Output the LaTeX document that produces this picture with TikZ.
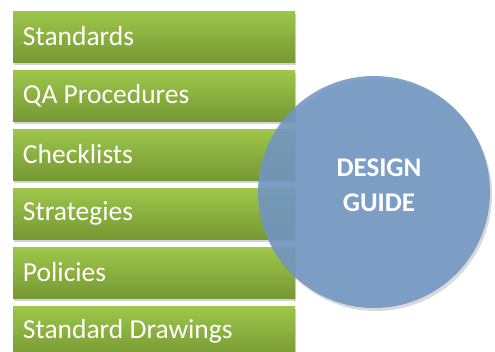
\documentclass[tikz,border=0pt]{standalone}
\usepackage{fontspec}
\setmainfont{Carlito}
\usepackage{tikz}
\usetikzlibrary{shadings,shadows,positioning}
\definecolor{mygreentop}{RGB}{158,199,74}
\definecolor{mygreenbot}{RGB}{118,152,52}
\definecolor{myblue}{RGB}{112,150,194}
\tikzstyle{itembox}=[draw=none,top color=mygreentop,bottom color=mygreenbot,
  minimum width=282pt,minimum height=51pt,text width=262pt,align=flush left,
  inner xsep=10pt,text=white,font=\fontsize{27.5}{30}\selectfont,
  drop shadow={opacity=0.35,shadow xshift=1pt,shadow yshift=-2.5pt}]
\tikzstyle{guidecircle}=[circle,fill=myblue,fill opacity=0.88,
  minimum size=232pt,inner sep=0pt,
  drop shadow={opacity=0.3,shadow xshift=2pt,shadow yshift=-3pt}]
\tikzstyle{guidetext}=[text=white,align=center,text opacity=1,
  font=\bfseries\fontsize{27}{35}\selectfont]

\begin{document}
\begin{tikzpicture}[x=1pt,y=-1pt]
\useasboundingbox (0,0) rectangle (495,351);
\draw (154, 36.5) node [itembox] (std) {Standards};
\draw (154, 95.5) node [itembox] (qa) {QA Procedures};
\draw (154,154.5) node [itembox] (chk) {Checklists};
\draw (154,213.5) node [itembox] (strat) {Strategies};
\draw (154,272.5) node [itembox] (pol) {Policies};
\draw (154,331.5) node [itembox] (drw) {Standard Drawings};
\draw (374,192) node [guidecircle,
  label={[guidetext,xshift=5pt,yshift=7pt]center:{DESIGN\\GUIDE}}] (guide) {};
\end{tikzpicture}
\end{document}
